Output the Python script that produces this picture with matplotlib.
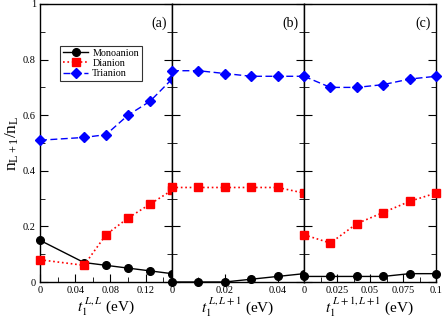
import numpy as np
import matplotlib
matplotlib.use('Agg')
import matplotlib.pyplot as plt
from matplotlib.ticker import MultipleLocator, FuncFormatter

plt.rcParams['font.family'] = ['Liberation Serif', 'DejaVu Serif']
plt.rcParams['mathtext.fontset'] = 'stix'

# panel (a): t1^{L,L}
xa = [0, 0.05, 0.075, 0.1, 0.125, 0.15]
mono_a = [0.15, 0.07, 0.06, 0.05, 0.04, 0.03]
di_a = [0.08, 0.06, 0.17, 0.23, 0.28, 0.33]
tri_a = [0.51, 0.52, 0.53, 0.60, 0.65, 0.73]

# panel (b): t1^{L,L+1}
xb = [0, 0.01, 0.02, 0.03, 0.04, 0.05]
mono_b = [0.0, 0.0, 0.0, 0.01, 0.02, 0.03]
di_b = [0.34, 0.34, 0.34, 0.34, 0.34, 0.32]
tri_b = [0.76, 0.76, 0.75, 0.74, 0.74, 0.74]

# panel (c): t1^{L+1,L+1}
xc = [0, 0.02, 0.04, 0.06, 0.08, 0.1]
mono_c = [0.02, 0.02, 0.02, 0.02, 0.03, 0.03]
di_c = [0.17, 0.14, 0.21, 0.25, 0.29, 0.32]
tri_c = [0.74, 0.70, 0.70, 0.71, 0.73, 0.74]

panels = [
    (xa, mono_a, di_a, tri_a, 0.15, 0.04, 0.02, '(a)', r'$t_1^{\;L,L}$ (eV)'),
    (xb, mono_b, di_b, tri_b, 0.05, 0.02, 0.01, '(b)', r'$t_1^{\;L,L+1}$ (eV)'),
    (xc, mono_c, di_c, tri_c, 0.10, 0.025, 0.0125, '(c)', r'$t_1^{\;L+1,L+1}$ (eV)'),
]

fig, axes = plt.subplots(1, 3, figsize=(4.43, 3.24), dpi=100, sharey=True)
fig.subplots_adjust(left=40/443, right=436/443, top=1-4/324, bottom=1-282/324, wspace=0)

fmt = FuncFormatter(lambda v, p: '%g' % round(v, 4))

for ax, (x, mono, di, tri, xmax, major, minor, tag, xlab) in zip(axes, panels):
    ax.plot(x, mono, '-', color='black', marker='o', ms=5.5, lw=1, label='Monoanion', clip_on=False, zorder=3)
    ax.plot(x, di, ':', color='red', marker='s', ms=5.5, lw=1.2, label='Dianion', clip_on=False, zorder=3)
    ax.plot(x, tri, '--', color='blue', marker='D', ms=5, lw=1, dashes=(5, 2.5), label='Trianion', clip_on=False, zorder=3)
    ax.set_xlim(0, xmax)
    ax.set_ylim(0, 1)
    ax.xaxis.set_major_locator(MultipleLocator(major))
    ax.xaxis.set_minor_locator(MultipleLocator(minor))
    ax.yaxis.set_major_locator(MultipleLocator(0.2))
    ax.yaxis.set_minor_locator(MultipleLocator(0.1))
    ax.xaxis.set_major_formatter(fmt)
    ax.yaxis.set_major_formatter(fmt)
    ax.tick_params(which='both', direction='in', left=True, right=True, top=False, labelsize=7.5, pad=3)
    ax.tick_params(which='major', length=6)
    ax.tick_params(which='minor', length=3.5)
    ax.set_xlabel(xlab, fontsize=11, labelpad=0)
    ax.text(0.9, 0.93, tag, transform=ax.transAxes, ha='center', va='center', fontsize=10)
    for s in ax.spines.values():
        s.set_linewidth(1)

axes[0].set_ylabel(r'$\mathregular{n_{L+1}/n_L}$', fontsize=12.5, labelpad=1)
axes[0].legend(loc='upper left', bbox_to_anchor=(0.15, 0.85), fontsize=7.3, frameon=True, fancybox=False,
               edgecolor='black', borderpad=0.3, labelspacing=0.1, handlelength=2.5, handletextpad=0.4,
               borderaxespad=0).get_frame().set_linewidth(0.8)

plt.savefig('out.png', dpi=100)
